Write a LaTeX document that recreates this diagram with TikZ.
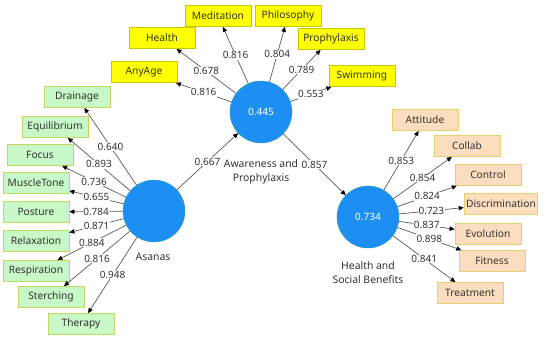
\documentclass[tikz,border=0pt]{standalone}
\usepackage{fontspec}
\setmainfont{Noto Sans}
\usetikzlibrary{arrows.meta}
\definecolor{lv}{HTML}{1E8FF2}
\definecolor{lvb}{HTML}{2AA0B0}
\definecolor{yfill}{HTML}{FFFF00}
\definecolor{ydraw}{HTML}{C8C800}
\definecolor{gfill}{HTML}{C8F7C8}
\definecolor{gdraw}{HTML}{C4D860}
\definecolor{ofill}{HTML}{FCDDBF}
\definecolor{odraw}{HTML}{E4D070}
\definecolor{ln}{HTML}{5A5A5A}
\definecolor{tx}{HTML}{333333}
\tikzset{
  lvar/.style={circle, fill=lv, draw=lvb, line width=0.4pt, minimum size=62pt, inner sep=0pt, text=white, font=\fontsize{10}{12}\selectfont},
  ibox/.style={rectangle, minimum width=66pt, minimum height=21pt, inner sep=2pt, font=\fontsize{10.2}{12}\selectfont, text=tx, line width=0.8pt},
  ybox/.style={ibox, fill=yfill, draw=ydraw},
  gbox/.style={ibox, fill=gfill, draw=gdraw},
  obox/.style={ibox, fill=ofill, draw=odraw},
  conn/.style={draw=ln, line width=0.7pt, -{Triangle[length=5pt,width=4.5pt,fill=black,color=black]}},
  wt/.style={fill=white, inner sep=0.6pt, font=\fontsize{10}{12}\selectfont, text=tx},
  lbl/.style={font=\fontsize{10.4}{13.5}\selectfont, align=center, text=tx, inner sep=0pt}
}
\begin{document}
\begin{tikzpicture}[x=1pt,y=-1pt]
\useasboundingbox (0,0) rectangle (550,340);
% latent variables
\node[lvar] (aw) at (261,112) {0.445};
\node[lvar] (as) at (154,211) {};
\node[lvar] (hs) at (368,217) {0.734};
\node[lbl] (awl) at (261,172) {Awareness and\\Prophylaxis};
\node[lbl] (asl) at (153,257) {Asanas};
\node[lbl] (hsl) at (368,272.5) {Health and\\Social Benefits};
% yellow indicators
\node[ybox] (anyage) at (144,72) {AnyAge};
\node[ybox] (health) at (162,38) {Health};
\node[ybox] (medit) at (218,16) {Meditation};
\node[ybox] (philo) at (288,16) {Philosophy};
\node[ybox] (proph) at (331,39) {Prophylaxis};
\node[ybox] (swim) at (362,76) {Swimming};
% green indicators
\node[gbox] (drain) at (77,97) {Drainage};
\node[gbox] (equi) at (55,127) {Equilibrium};
\node[gbox] (focus) at (40,155) {Focus};
\node[gbox] (muscle) at (36,183) {MuscleTone};
\node[gbox] (post) at (36,212) {Posture};
\node[gbox] (relax) at (36,241) {Relaxation};
\node[gbox] (resp) at (36,271) {Respiration};
\node[gbox] (sterch) at (51,297) {Sterching};
\node[gbox] (ther) at (81,324) {Therapy};
% orange indicators
\node[obox] (att) at (425,120) {Attitude};
\node[obox] (coll) at (467,146) {Collab};
\node[obox] (ctrl) at (488,175) {Control};
\node[obox] (disc) at (501,204) {Discrimination};
\node[obox] (evol) at (488,234) {Evolution};
\node[obox] (fit) at (492,261) {Fitness};
\node[obox] (treat) at (470,293) {Treatment};
% connectors awareness
\draw[conn] (aw) -- node[wt] {0.816} (anyage);
\draw[conn] (aw) -- node[wt] {0.678} (health);
\draw[conn] (aw) -- node[wt] {0.816} (medit);
\draw[conn] (aw) -- node[wt] {0.804} (philo);
\draw[conn] (aw) -- node[wt] {0.789} (proph);
\draw[conn] (aw) -- node[wt] {0.553} (swim);
% connectors asanas
\draw[conn] (as) -- node[wt] {0.640} (drain);
\draw[conn] (as) -- node[wt] {0.893} (equi);
\draw[conn] (as) -- node[wt] {0.736} (focus);
\draw[conn] (as) -- node[wt] {0.655} (muscle);
\draw[conn] (as) -- node[wt] {0.784} (post);
\draw[conn] (as) -- node[wt] {0.871} (relax);
\draw[conn] (as) -- node[wt] {0.884} (resp);
\draw[conn] (as) -- node[wt] {0.816} (sterch);
\draw[conn] (as) -- node[wt] {0.948} (ther);
% connectors health
\draw[conn] (hs) -- node[wt] {0.853} (att);
\draw[conn] (hs) -- node[wt] {0.854} (coll);
\draw[conn] (hs) -- node[wt] {0.824} (ctrl);
\draw[conn] (hs) -- node[wt] {0.723} (disc);
\draw[conn] (hs) -- node[wt] {0.837} (evol);
\draw[conn] (hs) -- node[wt] {0.898} (fit);
\draw[conn] (hs) -- node[wt] {0.841} (treat);
% structural
\draw[conn] (as) -- node[wt] {0.667} (aw);
\draw[conn] (aw) -- node[wt] {0.857} (hs);
\end{tikzpicture}
\end{document}
